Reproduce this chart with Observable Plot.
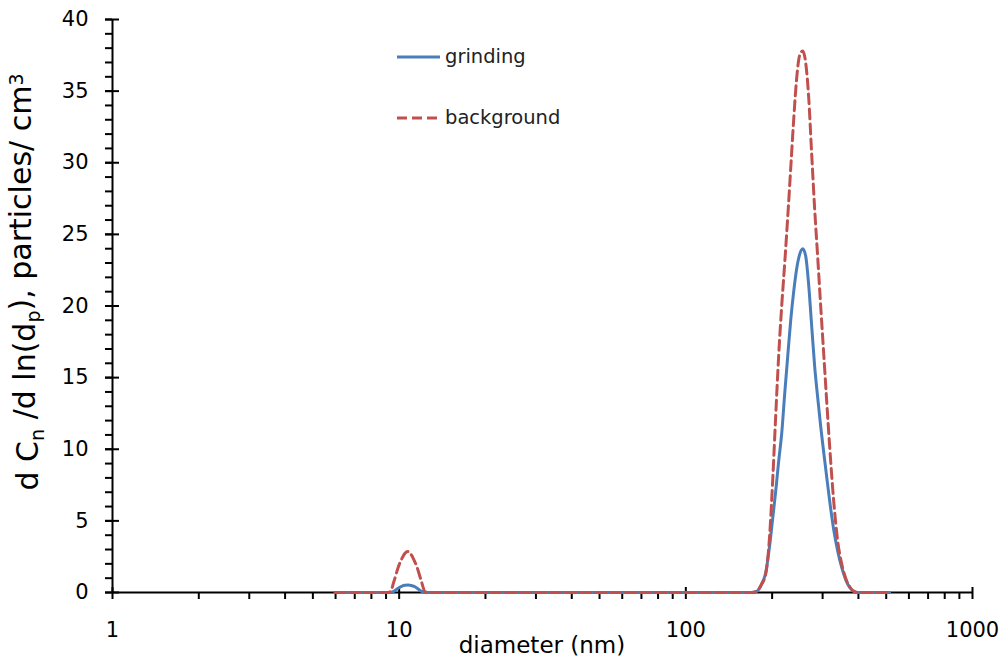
<!DOCTYPE html>
<html>
<head>
<meta charset="utf-8">
<script src="https://cdn.jsdelivr.net/npm/d3@7"></script>
<script src="https://cdn.jsdelivr.net/npm/@observablehq/plot@0.6"></script>
<style>
  body { margin: 0; background: #fff; }
  #chart { position: relative; width: 1008px; height: 660px; }
</style>
</head>
<body>
<div id="chart"></div>
<script>
// Particle size distribution (nm) for the two sampling conditions
const diameter = [5.98, 7.31, 9.01, 9.30, 9.61, 9.92, 10.24, 10.49, 10.75, 11.01, 11.28, 11.55, 11.93, 12.32, 12.72,
  22.5, 50.2, 111.9,
  160.6, 169.8, 176.8, 184.0, 190.0, 196.1, 201.0, 205.9, 210.9, 216.0,
  221.3, 226.7, 232.2, 237.8, 243.6, 249.5, 255.6, 261.8, 268.2, 274.8,
  281.4, 288.4, 295.4, 302.6, 309.9, 317.5, 327.9, 338.6, 349.7, 361.1,
  372.9, 385.0, 397.6, 437.7, 513.8];

const grinding = [0, 0, 0, 0, 0.1, 0.3, 0.45, 0.5, 0.52, 0.49, 0.42, 0.3, 0.1, 0.02, 0,
  0, 0, 0,
  0, 0, 0.08, 0.6, 1.4, 3.3, 5.2, 7.1, 9.2, 11.1,
  13.9, 16.5, 19.0, 21.0, 22.6, 23.6, 24.0, 23.5, 21.5, 18.6,
  15.8, 13.6, 11.6, 9.8, 8.1, 6.4, 4.4, 2.9, 1.75, 0.9,
  0.35, 0.1, 0, 0, 0];

const background = [0, 0, 0, 0.05, 0.84, 1.75, 2.4, 2.75, 2.86, 2.65, 2.25, 1.75, 0.84, 0.05, 0,
  0, 0, 0,
  0, 0, 0.1, 0.6, 1.3, 4.0, 7.9, 12.4, 16.6, 20.0,
  23.0, 26.2, 29.6, 33.0, 35.9, 37.5, 37.8, 37.0, 34.6, 30.6,
  26.8, 23.4, 20.0, 16.7, 13.4, 10.2, 6.4, 3.6, 2.0, 1.0,
  0.4, 0.08, 0, 0, 0];

const seriesNames = ["grinding", "background"];
const seriesColors = ["#4a7ebb", "#c0504d"];

// Axis ticks
const xMajor = [1, 10, 100, 1000];
const xMinor = [1, 10, 100].flatMap(p => [2, 3, 4, 5, 6, 7, 8, 9].map(m => m * p));
const yMajor = [0, 5, 10, 15, 20, 25, 30, 35, 40];
const yMinor = d3.range(0, 41, 1);

const gRows = diameter.map((d, i) => ({d, v: grinding[i]}));
const bRows = diameter.map((d, i) => ({d, v: background[i]}));

const font = "DejaVu Sans, Verdana, sans-serif";
const noLabel = () => null;

const plot = Plot.plot({
  width: 1008,
  height: 660,
  marginLeft: 112,
  marginRight: 36,
  marginTop: 19,
  marginBottom: 68,
  style: {fontFamily: font, fontSize: "21px", color: "#000", background: "#fff", overflow: "visible"},
  x: {type: "log", domain: [1, 1000]},
  y: {domain: [0, 40]},
  marks: [
    // axis lines
    Plot.ruleY([0], {stroke: "#000", strokeWidth: 2}),
    Plot.ruleX([1], {stroke: "#000", strokeWidth: 2}),
    // x ticks: minor below the axis, major crossing it
    Plot.axisX(xMinor, {tickSize: 7, tickFormat: noLabel, label: null, strokeWidth: 2}),
    Plot.axisX(xMajor, {tickSize: 12, dy: -5, tickFormat: noLabel, label: null, strokeWidth: 2}),
    Plot.axisX(xMajor, {tickSize: 0, tickPadding: 30, label: null, tickFormat: d => String(d), fontSize: 21}),
    // y ticks: minor on the left, major crossing the axis
    Plot.axisY(yMinor, {tickSize: 7, tickFormat: noLabel, label: null, strokeWidth: 2}),
    Plot.axisY(yMajor, {tickSize: 14, dx: 7, tickFormat: noLabel, label: null, strokeWidth: 2}),
    Plot.axisY(yMajor, {tickSize: 0, tickPadding: 24, label: null, tickFormat: d => String(d), fontSize: 21}),
    // size distributions
    Plot.line(gRows, {x: "d", y: "v", stroke: seriesColors[0], strokeWidth: 3, curve: "monotone-x"}),
    Plot.line(bRows, {x: "d", y: "v", stroke: seriesColors[1], strokeWidth: 3, strokeDasharray: "10,5", curve: "monotone-x"})
  ]
});

const svg = d3.select(plot);

// y-axis title with subscripts and superscript
const yt = svg.append("text")
  .attr("transform", "translate(38,282) rotate(-90)")
  .attr("text-anchor", "middle")
  .attr("font-family", font)
  .attr("font-size", 30)
  .attr("fill", "#000");
yt.append("tspan").text("d C");
yt.append("tspan").attr("dy", "0.3em").attr("font-size", 19).text("n");
yt.append("tspan").attr("dy", "-0.3em").text(" /d ln(d");
yt.append("tspan").attr("dy", "0.3em").attr("font-size", 19).text("p");
yt.append("tspan").attr("dy", "-0.3em").text("), particles/ cm");
yt.append("tspan").attr("dy", "-0.45em").attr("font-size", 19).text("3");

// x-axis title
svg.append("text")
  .attr("x", 542).attr("y", 653)
  .attr("text-anchor", "middle")
  .attr("font-family", font)
  .attr("font-size", 23)
  .attr("fill", "#000")
  .text("diameter (nm)");

// legend
const legend = svg.append("g")
  .attr("font-family", font).attr("font-size", 19.5)
  .attr("fill", "#222").attr("text-anchor", "start");
seriesNames.forEach((name, i) => {
  const y = 57 + i * 61;
  legend.append("line")
    .attr("x1", 397).attr("x2", 440).attr("y1", y).attr("y2", y)
    .attr("stroke", seriesColors[i]).attr("stroke-width", 3)
    .attr("stroke-dasharray", i === 1 ? "10,5" : null);
  legend.append("text").attr("x", 445).attr("y", y + 6).text(name);
});

document.getElementById("chart").appendChild(plot);
</script>
</body>
</html>
